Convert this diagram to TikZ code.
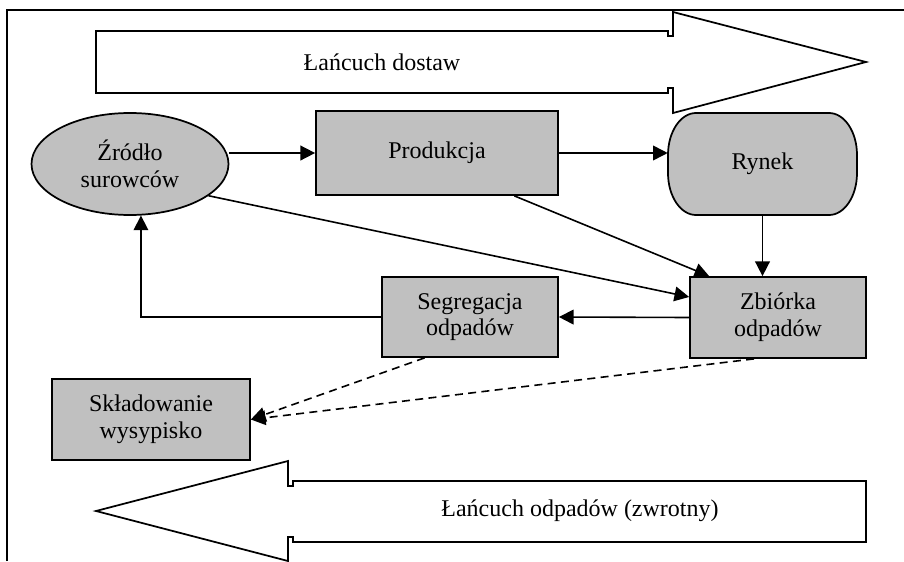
\documentclass[tikz,border=0pt]{standalone}
\usepackage{fontspec}
\setmainfont{Liberation Serif}
\usepackage{tikz}
\usetikzlibrary{arrows.meta}
\usetikzlibrary{shapes.geometric}

\definecolor{boxgrey}{RGB}{192,192,192}

\tikzset{
  box/.style={draw, line width=1.3pt, fill=boxgrey},
  txt/.style={inner sep=0.75pt, align=center, font=\fontsize{18pt}{20pt}\selectfont},
  arr/.style={line width=1.2pt, -{Triangle[length=11pt,width=11pt]}},
  dasharr/.style={arr, dash pattern=on 6pt off 4pt},
}

\begin{document}
\begin{tikzpicture}[x=0.75pt,y=0.75pt,yscale=-1,xscale=1]
\useasboundingbox (0,0) rectangle (904,561);

%Straight Lines (frame)
\draw [line width=1.3pt]   (7,561) -- (7,10) -- (904,10) ;

%Shape: Right Arrow
\draw [line width=1.3pt, fill=white]  (96,31) -- (668,31) -- (668,36) -- (673,36) -- (673,12) -- (866,62) -- (673,113) -- (673,88) -- (668,88) -- (668,93) -- (96,93) -- cycle ;
%Shape: Left Arrow
\draw [line width=1.3pt, fill=white]  (866,481) -- (293,481) -- (293,486) -- (288,486) -- (288,461) -- (96,511) -- (288,561) -- (288,537) -- (293,537) -- (293,542) -- (866,542) -- cycle ;

%Shape: Rounded Rect (Rynek)
\draw [box]  (696,113) -- (829,113) arc [start angle=-90, end angle=0, x radius=28, y radius=42] -- (857,173) arc [start angle=0, end angle=90, x radius=28, y radius=42] -- (696,215) arc [start angle=90, end angle=180, x radius=28, y radius=42] -- (668,155) arc [start angle=180, end angle=270, x radius=28, y radius=42] -- cycle ;

% Text Node
\node (supply) [txt] at (382,62) {Łańcuch dostaw};
% Text Node
\node (waste) [txt] at (580,511) {Łańcuch odpadów (zwrotny)};

%Shape: Ellipse
\node (zrodlo) [box, txt, ellipse, minimum width=147.75pt, minimum height=76.5pt] at (130,164) {Źródło\\surowców};
%Shape: Rectangle
\node (prod) [box, txt, minimum width=181.5pt, minimum height=63pt] at (437,153) {Produkcja};
% Text Node
\node (ryn) [txt, minimum width=141.75pt, minimum height=76.5pt] at (762.5,164) {Rynek};
%Shape: Rectangle
\node (zbi) [box, txt, minimum width=132pt, minimum height=60.75pt] at (778,317.5) {Zbiórka\\odpadów};
%Shape: Rectangle
\node (seg) [box, txt, minimum width=132pt, minimum height=60pt] at (470,317) {Segregacja\\odpadów};
%Shape: Rectangle
\node (skl) [box, txt, minimum width=148.5pt, minimum height=60.75pt] at (151,419.5) {Składowanie\\wysypisko};

%Straight Lines
\draw [arr]   (zrodlo.east |- prod.west) -- (prod.west) ;
\draw [arr]   (prod.east) -- (prod.east -| ryn.west) ;
\draw [arr]   (ryn.south) -- (ryn.south |- zbi.north) ;
\draw [arr]   (prod.-29) -- (zbi.149) ;
\draw [arr]   (zrodlo.-22) -- (zbi.167) ;
\draw [arr]   (zbi.west) -- (seg.east) ;
\draw [arr]   (seg.west) -| (zrodlo.-78) ;
\draw [dasharr]   (seg.222) -- (skl.east) ;
\draw [dasharr]   (zbi.240) -- (skl.east) ;
\end{tikzpicture}
\end{document}
